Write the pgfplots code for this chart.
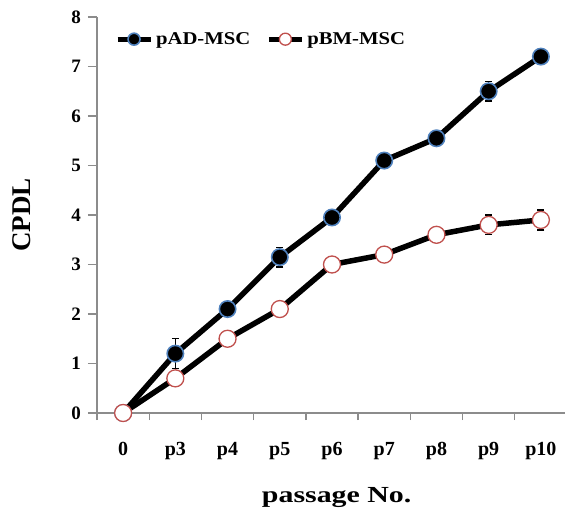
\documentclass[border=0pt]{standalone}
\usepackage{pgfplots}
\pgfplotsset{compat=1.18}
\usepackage{fontspec}
\setmainfont{Liberation Serif}
\newfontfamily\legfont{Liberation Serif}[FakeStretch=1.15]
\newfontfamily\labfont{Liberation Serif}[FakeStretch=1.3]
\definecolor{adblue}{HTML}{4F81BD}
\definecolor{bmred}{HTML}{C0504D}
\definecolor{axgray}{HTML}{8C8C8C}
\begin{document}
\begin{tikzpicture}
\begin{axis}[
  scale only axis, width=470pt, height=396pt,
  xmin=-0.5, xmax=8.5, ymin=0, ymax=8,
  axis lines=left,
  axis line style={axgray, line width=1.3pt, -},
  xtick={0,...,8},
  xticklabels={0,p3,p4,p5,p6,p7,p8,p9,p10},
  minor xtick={-0.5,0.5,...,8.5},
  ytick={0,...,8},
  tick align=outside,
  major tick length=9pt, minor tick length=7pt,
  tick style={axgray, line width=1.3pt},
  major x tick style={draw=none},
  /pgf/number format/assume math mode=true,
  xticklabel style={font=\bfseries\fontsize{20}{20}\selectfont, anchor=base, yshift=-33.5pt},
  yticklabel style={font=\bfseries\fontsize{19}{19}\selectfont, anchor=east, inner sep=0pt, xshift=-7pt},
  xlabel={passage No.},
  ylabel={CPDL},
  xlabel style={font=\labfont\bfseries\fontsize{23}{23}\selectfont, at={(axis description cs:0.51,0)}, anchor=center, yshift=-85pt},
  ylabel style={font=\bfseries\fontsize{27}{27}\selectfont, at={(axis description cs:-0.16,0.5)}, anchor=center},
  legend columns=2,
  legend style={at={(axis description cs:0.038,0.944)}, anchor=west, draw=none, fill=none, inner sep=0pt,
    font=\legfont\bfseries\fontsize{18}{18}\selectfont,
    nodes={inner xsep=3pt},
    /tikz/every even column/.append style={column sep=13pt}},
  legend image code/.code={\draw[mark repeat=2,mark phase=2,#1,line width=5pt,mark size=6pt] plot coordinates {(0pt,0pt) (16.5pt,0pt) (33pt,0pt)};},
]
\addplot[black, line width=5.5pt, mark=*, mark size=8.2pt,
  mark options={fill=black, draw=adblue, line width=1.6pt},
  error bars/.cd, y dir=both, y explicit,
  error bar style={black, line width=1.3pt},
  error mark options={rotate=90, mark size=3.5pt, line width=1.3pt, black}]
  table[x=x, y=y, y error=e] {
x y e
0 0 0
1 1.2 0.3
2 2.1 0.05
3 3.15 0.2
4 3.95 0.05
5 5.1 0.05
6 5.55 0.05
7 6.5 0.2
8 7.2 0.05
};
\addlegendentry{pAD-MSC}
\addplot[black, line width=5.5pt, mark=*, mark size=8.5pt,
  mark options={fill=white, draw=bmred, line width=1.3pt},
  error bars/.cd, y dir=both, y explicit,
  error bar style={black, line width=1.3pt},
  error mark options={rotate=90, mark size=3.5pt, line width=1.3pt, black}]
  table[x=x, y=y, y error=e] {
x y e
0 0 0
1 0.7 0
2 1.5 0
3 2.1 0
4 3.0 0
5 3.2 0
6 3.6 0
7 3.8 0.2
8 3.9 0.2
};
\addlegendentry{pBM-MSC}
\end{axis}
\pgfresetboundingbox
\path[use as bounding box] ([xshift=-97pt,yshift=-100pt]current axis.south west) rectangle ([xshift=-2pt,yshift=17pt]current axis.north east);
\end{tikzpicture}
\end{document}
